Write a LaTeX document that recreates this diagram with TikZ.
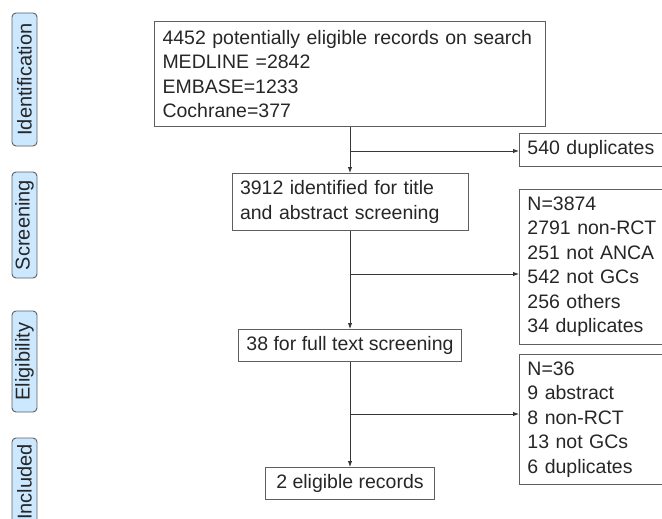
\documentclass[tikz,border=0pt]{standalone}
\usepackage{fontspec}
\setmainfont{Liberation Sans}
\usetikzlibrary{positioning,arrows.meta}
\definecolor{stagefill}{RGB}{204,232,255}
\definecolor{boxline}{RGB}{95,95,95}
\definecolor{flowline}{RGB}{55,55,55}

\begin{document}
\begin{tikzpicture}[x=1pt, y=-1pt,
	>={Latex[length=6pt,width=4.5pt]},
	every node/.style={font=\fontsize{19.5}{24.5}\selectfont, text=black!85},
	recbox/.style={draw=boxline, line width=0.9pt, align=left, inner xsep=8pt, inner ysep=0pt},
	stage/.style={draw=boxline, fill=stagefill, rounded corners=4pt, line width=0.9pt, rotate=90,
		minimum height=25pt, inner sep=0pt, font=\fontsize{20}{22}\selectfont},
	flow/.style={draw=flowline, line width=0.9pt}]
	\useasboundingbox (0,0) rectangle (662,519);
	\clip (0,0) rectangle (662,519);

	% stages
	\node[stage, minimum width=133pt] (ident) at (24.5,79.5) {Identification};
	\node[stage, minimum width=106pt] (scr) at (24.5,225) {Screening};
	\node[stage, minimum width=101pt] (elig) at (24.5,361.5) {Eligibility};
	\node[stage, minimum width=88pt] (incl) at (24.5,482) {Included};

	% main column
	\node[recbox, anchor=north, text width=375pt, minimum height=105pt] (search) at (350,21)
		{4452 potentially eligible records on search\\MEDLINE =2842\\EMBASE=1233\\Cochrane=377};
	\node[recbox, anchor=north, text width=220pt, minimum height=57pt] (screen) at (350,173)
		{3912 identified for title\\and abstract screening};
	\node[recbox, anchor=north, minimum width=222pt, minimum height=32pt] (fulltext) at (350,329)
		{38 for full text screening};
	\node[recbox, anchor=north, minimum width=169pt, minimum height=32pt] (eligible) at (350,467)
		{2 eligible records};

	% exclusions
	\node[recbox, anchor=north west, text width=144pt, minimum height=33pt] (dup) at (519,133)
		{540 duplicates};
	\node[recbox, anchor=north west, text width=144pt, minimum height=155pt] (excl2) at (519,189)
		{N=3874\\2791 non-RCT\\251 not ANCA\\542 not GCs\\256 others\\34 duplicates};
	\node[recbox, anchor=north west, text width=144pt, minimum height=130pt] (excl3) at (519,354)
		{N=36\\9 abstract\\8 non-RCT\\13 not GCs\\6 duplicates};

	% connectors
	\draw[flow,->] (search) -- (screen);
	\draw[flow,->] (screen) -- (fulltext);
	\draw[flow,->] (fulltext) -- (eligible);
	\coordinate (br1) at (350,151);
	\coordinate (br2) at (350,274);
	\coordinate (br3) at (350,414);
	\draw[flow,->] (br1) -- (br1 -| dup.west);
	\draw[flow,->] (br2) -- (br2 -| excl2.west);
	\draw[flow,->] (br3) -- (br3 -| excl3.west);
\end{tikzpicture}
\end{document}
